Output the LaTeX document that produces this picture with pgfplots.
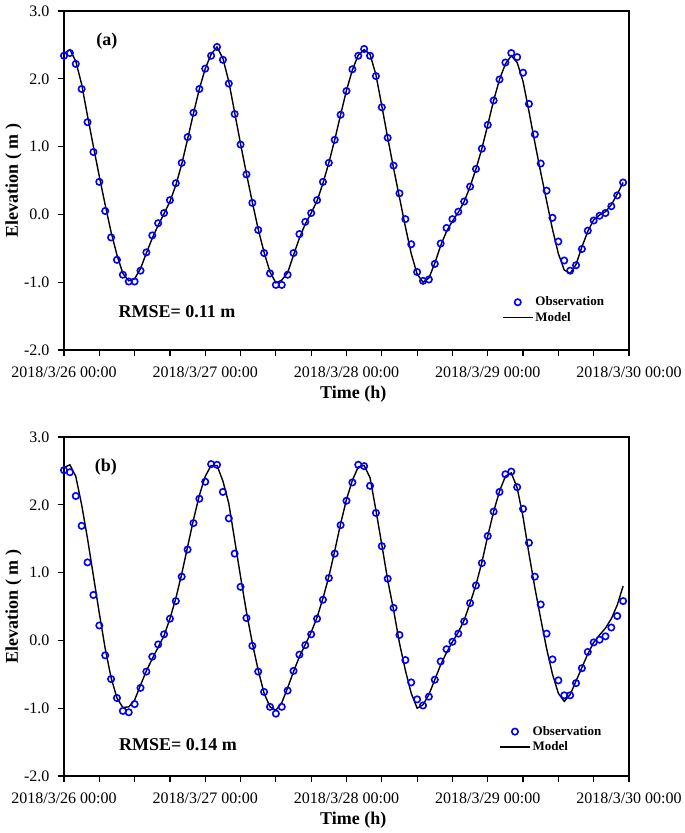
\documentclass[border=0pt]{standalone}
\usepackage{fontspec}
\setmainfont{Liberation Serif}
\usepackage{pgfplots}
\usepackage{pgfplotstable}
\pgfplotsset{compat=1.18}

\pgfplotstableread{
h obs mod
0 2.34 2.37
1 2.38 2.43
2 2.22 2.26
3 1.85 1.92
4 1.36 1.45
5 0.92 1.00
6 0.48 0.56
7 0.05 0.14
8 -0.34 -0.26
9 -0.67 -0.60
10 -0.89 -0.87
11 -0.99 -0.98
12 -0.99 -0.95
13 -0.83 -0.80
14 -0.56 -0.57
15 -0.31 -0.35
16 -0.13 -0.16
17 0.02 0.01
18 0.21 0.19
19 0.46 0.43
20 0.76 0.74
21 1.14 1.11
22 1.50 1.49
23 1.85 1.85
24 2.15 2.15
25 2.34 2.36
26 2.47 2.47
27 2.28 2.30
28 1.93 1.96
29 1.48 1.50
30 1.03 1.04
31 0.59 0.60
32 0.17 0.18
33 -0.23 -0.22
34 -0.57 -0.56
35 -0.87 -0.85
36 -1.04 -1.01
37 -1.04 -0.97
38 -0.89 -0.86
39 -0.57 -0.60
40 -0.29 -0.35
41 -0.11 -0.14
42 0.02 0.02
43 0.21 0.20
44 0.48 0.46
45 0.76 0.76
46 1.10 1.10
47 1.47 1.47
48 1.82 1.83
49 2.14 2.13
50 2.34 2.35
51 2.44 2.43
52 2.34 2.36
53 2.04 2.06
54 1.58 1.60
55 1.13 1.13
56 0.72 0.68
57 0.31 0.25
58 -0.07 -0.18
59 -0.44 -0.58
60 -0.85 -0.88
61 -0.98 -1.00
62 -0.96 -0.94
63 -0.73 -0.72
64 -0.43 -0.46
65 -0.20 -0.25
66 -0.07 -0.10
67 0.04 0.03
68 0.19 0.19
69 0.41 0.41
70 0.67 0.67
71 0.97 0.97
72 1.32 1.32
73 1.68 1.68
74 1.99 1.99
75 2.24 2.22
76 2.38 2.34
77 2.32 2.24
78 2.09 1.96
79 1.63 1.52
80 1.18 1.06
81 0.75 0.62
82 0.35 0.20
83 -0.05 -0.22
84 -0.40 -0.58
85 -0.68 -0.82
86 -0.83 -0.87
87 -0.75 -0.74
88 -0.51 -0.48
89 -0.24 -0.25
90 -0.09 -0.08
91 -0.02 -0.01
92 0.02 0.04
93 0.12 0.14
94 0.28 0.30
95 0.47 0.47
}\dataA

\pgfplotstableread{
h obs mod
0 2.51 2.55
1 2.48 2.59
2 2.13 2.42
3 1.69 2.00
4 1.15 1.50
5 0.67 0.95
6 0.22 0.40
7 -0.22 -0.12
8 -0.57 -0.55
9 -0.85 -0.85
10 -1.04 -0.99
11 -1.06 -0.98
12 -0.94 -0.88
13 -0.70 -0.66
14 -0.46 -0.45
15 -0.24 -0.27
16 -0.06 -0.10
17 0.09 0.07
18 0.32 0.32
19 0.58 0.62
20 0.94 0.98
21 1.34 1.38
22 1.73 1.78
23 2.09 2.14
24 2.34 2.42
25 2.60 2.58
26 2.59 2.58
27 2.19 2.35
28 1.80 2.02
29 1.28 1.48
30 0.79 0.94
31 0.33 0.42
32 -0.08 -0.04
33 -0.46 -0.44
34 -0.76 -0.78
35 -0.98 -0.98
36 -1.08 -1.03
37 -0.98 -0.92
38 -0.74 -0.70
39 -0.45 -0.46
40 -0.21 -0.24
41 -0.07 -0.06
42 0.09 0.12
43 0.32 0.34
44 0.60 0.62
45 0.92 0.94
46 1.28 1.32
47 1.70 1.72
48 2.06 2.08
49 2.33 2.36
50 2.59 2.56
51 2.57 2.58
52 2.28 2.40
53 1.88 1.92
54 1.39 1.41
55 0.91 0.89
56 0.48 0.45
57 0.08 -0.04
58 -0.29 -0.44
59 -0.62 -0.78
60 -0.87 -1.00
61 -0.96 -0.95
62 -0.83 -0.80
63 -0.58 -0.58
64 -0.31 -0.36
65 -0.13 -0.18
66 -0.02 -0.02
67 0.10 0.12
68 0.28 0.30
69 0.55 0.55
70 0.81 0.82
71 1.14 1.15
72 1.54 1.54
73 1.90 1.90
74 2.19 2.20
75 2.45 2.42
76 2.49 2.47
77 2.26 2.25
78 1.94 1.82
79 1.44 1.28
80 0.94 0.78
81 0.53 0.32
82 0.10 -0.12
83 -0.28 -0.50
84 -0.59 -0.78
85 -0.81 -0.90
86 -0.81 -0.80
87 -0.63 -0.60
88 -0.41 -0.40
89 -0.17 -0.20
90 -0.03 -0.03
91 0.01 0.08
92 0.06 0.18
93 0.19 0.32
94 0.36 0.52
95 0.58 0.80
}\dataB

\pgfplotsset{
  tide/.style={
    scale only axis, width=565pt, height=339pt,
    xmin=0, xmax=96, ymin=-2, ymax=3,
    xtick={0,24,48,72,96},
    xticklabels={2018/3/26 00:00,2018/3/27 00:00,2018/3/28 00:00,2018/3/29 00:00,2018/3/30 00:00},
    minor xtick={6,12,18,30,36,42,54,60,66,78,84,90},
    ytick={-2,-1,0,1,2,3},
    yticklabels={-2.0,-1.0,0.0,1.0,2.0,3.0},
    tick align=outside, tick pos=left,
    major tick length=6pt, minor tick length=6pt,
    every tick/.style={black, line width=1.2pt},
    axis line style={line width=1.2pt},
    tick label style={font=\fontsize{16}{16}\selectfont},
    xticklabel style={yshift=-7pt},
    yticklabel style={xshift=-5pt},
    every axis x label/.style={at={(axis description cs:0.512,-0.13)},anchor=center,
      font=\bfseries\fontsize{18}{18}\selectfont},
    every axis y label/.style={at={(axis description cs:-0.0894,0.5)},rotate=90,anchor=center,
      font=\bfseries\fontsize{18}{18}\selectfont},
    xlabel={Time (h)},
    ylabel={Elevation ( m )},
    clip=false,
    legend cell align=left,
    legend style={draw=none, fill=none, anchor=west, inner sep=0pt, row sep=1pt,
      font=\bfseries\fontsize{13}{13}\selectfont},
  },
  obsplot/.style={only marks, mark=o, color=blue, mark size=3.2pt, line width=1.6pt,
    legend image code/.code={\draw[mark repeat=2,mark phase=2,##1] plot coordinates {(0pt,0pt) (15pt,0pt) (30pt,0pt)};}},
  modplot/.style={black, line width=1.4pt, mark=none,
    legend image code/.code={\draw[##1] (0pt,0pt) -- (30pt,0pt);}},
}

\begin{document}
\begin{tikzpicture}
\useasboundingbox (0,0) rectangle (685pt,833pt);
\begin{axis}[tide, at={(64pt,483pt)}, anchor=south west,
  legend style={at={(0.775,0.118)}}]
\addplot[obsplot] table[x=h, y=obs] {\dataA};
\addlegendentry{Observation}
\addplot[modplot] table[x=h, y=mod] {\dataA};
\addlegendentry{Model}
\node[font=\bfseries\fontsize{18}{18}\selectfont] at (rel axis cs:0.0761,0.9115) {(a)};
\node[font=\bfseries\fontsize{18}{18}\selectfont] at (rel axis cs:0.2,0.112) {RMSE= 0.11 m};
\end{axis}
\begin{axis}[tide, at={(64pt,57pt)}, anchor=south west,
  legend style={at={(0.770,0.108)}}]
\addplot[obsplot] table[x=h, y=obs] {\dataB};
\addlegendentry{Observation}
\addplot[modplot] table[x=h, y=mod] {\dataB};
\addlegendentry{Model}
\node[font=\bfseries\fontsize{18}{18}\selectfont] at (rel axis cs:0.0743,0.9115) {(b)};
\node[font=\bfseries\fontsize{18}{18}\selectfont] at (rel axis cs:0.2018,0.0914) {RMSE= 0.14 m};
\end{axis}
\end{tikzpicture}
\end{document}
